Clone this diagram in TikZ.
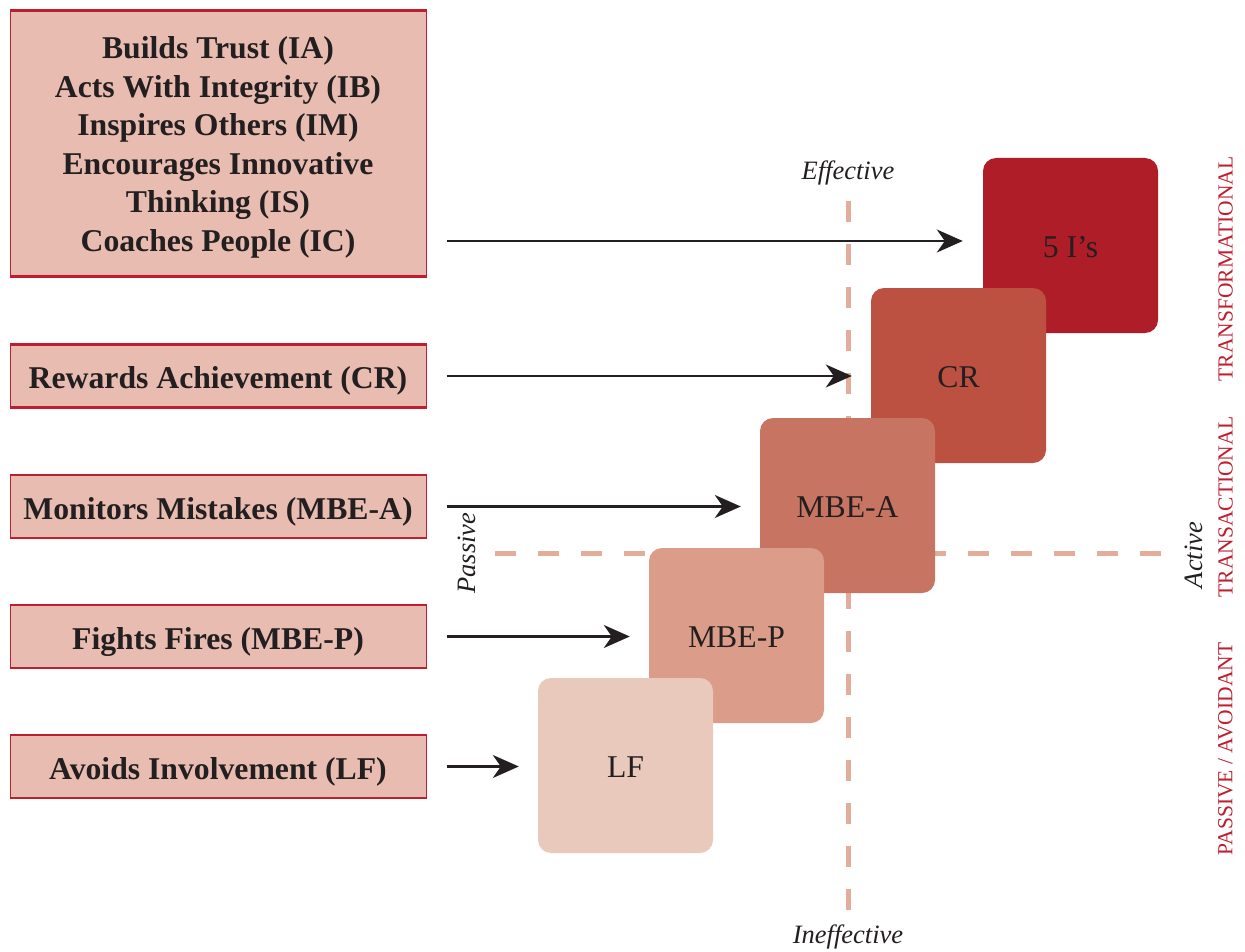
\documentclass[tikz,border=0pt]{standalone}
\usepackage{fontspec}
\setmainfont{Liberation Serif}
\usetikzlibrary{arrows.meta}

\definecolor{ink}{HTML}{231F20}
\definecolor{boxfill}{HTML}{E8BCB0}
\definecolor{boxred}{HTML}{BE1E2D}
\definecolor{guidecol}{HTML}{E2AD9A}
\definecolor{lvlA}{HTML}{AF1E28}
\definecolor{lvlB}{HTML}{BC5041}
\definecolor{lvlC}{HTML}{C87462}
\definecolor{lvlD}{HTML}{DB9D89}
\definecolor{lvlE}{HTML}{E9C9BC}

\begin{document}
\begin{tikzpicture}[x=1pt,y=-1pt,
  lbox/.style={draw=boxred, line width=1pt, fill=boxfill, minimum width=416pt,
    inner sep=0pt, font=\fontsize{31.7}{38.6}\selectfont\bfseries, text=ink, align=center,
    text height=25pt, text depth=0pt},
  edge/.style={draw=boxred, line width=2.6pt},
  sq/.style={fill=#1, rounded corners=13pt, minimum size=175pt, inner sep=0pt,
    font=\fontsize{31.7}{38}\selectfont, text=ink, text height=24pt, text depth=0pt},
  arr/.style={-{Stealth[length=26pt,width=23pt,inset=8pt]}, line width=2.2pt, draw=ink},
  guide/.style={draw=guidecol, line width=5pt, dash pattern=on 21pt off 22pt},
  axislab/.style={font=\fontsize{26.5}{30}\selectfont\itshape, text=ink},
  zone/.style={font=\fontsize{21.5}{26}\selectfont, text=boxred, rotate=90}
]
\path[use as bounding box] (0,0) rectangle (1245,952);

% quadrant guides
\coordinate (vtop) at (848,201);
\coordinate (vbot) at (848,910);
\coordinate (hl) at (495,553);
\coordinate (hr) at (1163,553);
\draw[guide] (vtop) -- (vbot);
\draw[guide] (hl) -- (hr);

% axis labels
\node[axislab] (eff) at (848,173) {Effective};
\node[axislab] (ineff) at (848,937) {Ineffective};
\node[axislab, rotate=90] (pas) at (467,553) {Passive};
\node[axislab, rotate=90] (act) at (1194,555) {Active};

% leadership levels, back to front
\node[sq=lvlA] (q1) at (1070.5,245.5) {5 I’s};
\node[sq=lvlB] (q2) at (958.5,375.5) {CR};
\node[sq=lvlC] (q3) at (847.5,505.5) {MBE-A};
\node[sq=lvlD] (q4) at (736.5,635.5) {MBE-P};
\node[sq=lvlE] (q5) at (625.5,765.5) {LF};

% behaviour boxes
\node[lbox, minimum height=265pt, text height=216pt] (b1) at (218,143.5)
  {Builds Trust (IA)\\Acts With Integrity (IB)\\Inspires Others (IM)\\Encourages Innovative\\Thinking (IS)\\Coaches People (IC)};
\node[lbox, minimum height=62pt] (b2) at (218,376) {Rewards Achievement (CR)};
\node[lbox, minimum height=62pt] (b3) at (218,506.5) {Monitors Mistakes (MBE-A)};
\node[lbox, minimum height=62pt] (b4) at (218,636.5) {Fights Fires (MBE-P)};
\node[lbox, minimum height=62pt] (b5) at (218,766.5) {Avoids Involvement (LF)};
\foreach \b in {b1,b2,b3,b4,b5}{
  \draw[edge] (\b.north west) -- (\b.north east);
  \draw[edge] (\b.south west) -- (\b.south east);
}

% arrows
\coordinate (y1) at (0,241);
\draw[arr] ([xshift=20pt]b1.east |- y1) -- ([xshift=-20pt]q1.west |- y1);
\draw[arr] ([xshift=20pt]b2.east) -- ([xshift=-19pt]q2.west |- b2.east);
\draw[arr] ([xshift=20pt]b3.east) -- ([xshift=-19pt]q3.west |- b3.east);
\draw[arr] ([xshift=20pt]b4.east) -- ([xshift=-19pt]q4.west |- b4.east);
\draw[arr] ([xshift=20pt]b5.east) -- ([xshift=-19pt]q5.west |- b5.east);

% style zones
\node[zone] (z1) at (1225.5,269) {TRANSFORMATIONAL};
\node[zone] (z2) at (1225.5,507) {TRANSACTIONAL};
\node[zone] (z3) at (1225.5,749) {PASSIVE / AVOIDANT};
\end{tikzpicture}
\end{document}
